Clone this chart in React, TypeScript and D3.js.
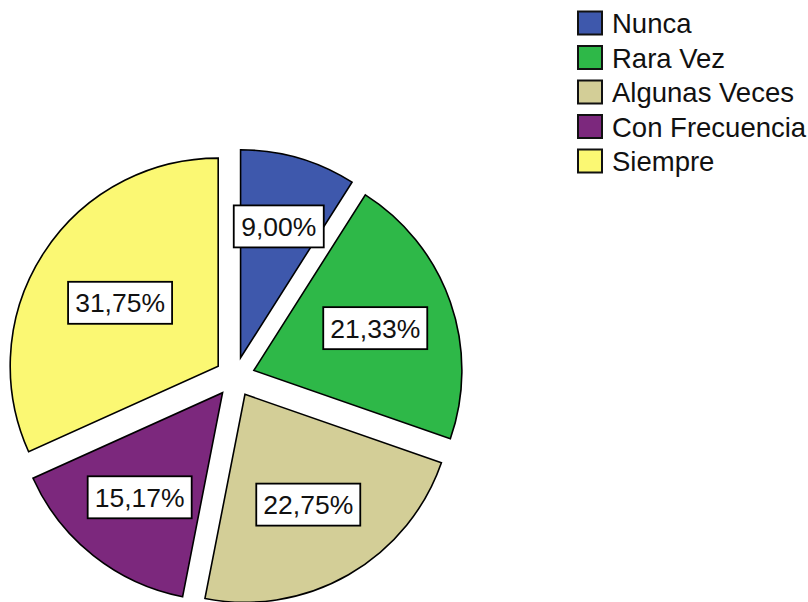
import React, { useEffect } from "react";
import * as d3 from "d3";

const categories = ["Nunca", "Rara Vez", "Algunas Veces", "Con Frecuencia", "Siempre"];
const percents = [9.0, 21.33, 22.75, 15.17, 31.75];
const colors = ["#3E58AC", "#2EB848", "#D3CE97", "#7C287D", "#FBF873"];

const W = 808;
const H = 602;
const CX = 235;
const CY = 377;
const R = 208;
const EXPLODE = 20;
const FONT = "'Liberation Sans', Arial, Helvetica, sans-serif";

export default function App() {
  useEffect(() => {
    document.body.style.margin = "0";
    document.body.style.overflow = "hidden";
  }, []);

  const pie = d3
    .pie<number>()
    .sort(null)
    .value((d) => d)
    .startAngle(0)
    .endAngle(2 * Math.PI);
  const arcs = pie(percents);
  const arcGen = d3.arc<d3.PieArcDatum<number>>().innerRadius(0).outerRadius(R);

  const fmt = (v: number) => v.toFixed(2).replace(".", ",") + "%";

  return (
    <svg
      width={W}
      height={H}
      style={{ position: "absolute", left: 0, top: 0, background: "#fff" }}
      fontFamily={FONT}
    >
      <g transform={`translate(${CX},${CY})`}>
        {arcs.map((a, i) => {
          const mid = (a.startAngle + a.endAngle) / 2;
          const ox = EXPLODE * Math.sin(mid);
          const oy = -EXPLODE * Math.cos(mid);
          return (
            <g key={i} transform={`translate(${ox},${oy})`}>
              <path d={arcGen(a) || ""} fill={colors[i]} stroke="#000" strokeWidth={1.6} strokeLinejoin="miter" />
            </g>
          );
        })}
        {arcs.map((a, i) => {
          const mid = (a.startAngle + a.endAngle) / 2;
          const theta = a.endAngle - a.startAngle;
          const ox = EXPLODE * Math.sin(mid);
          const oy = -EXPLODE * Math.cos(mid);
          const dist = (4 * R * Math.sin(theta / 2)) / (3 * theta);
          const lx = ox + dist * Math.sin(mid);
          const ly = oy - dist * Math.cos(mid);
          const txt = fmt(percents[i]);
          const fs = 26.5;
          const tw = txt.length === 5 ? 78 : 92;
          const bw = tw + 12;
          const bh = 42;
          return (
            <g key={"l" + i} transform={`translate(${lx},${ly})`}>
              <rect x={-bw / 2} y={-bh / 2} width={bw} height={bh} fill="#fff" stroke="#000" strokeWidth={1.8} />
              <text x={0} y={fs * 0.36} textAnchor="middle" fontSize={fs} fill="#111">
                {txt}
              </text>
            </g>
          );
        })}
      </g>
      <g>
        {categories.map((c, i) => {
          const cy = 23 + i * 34.5;
          return (
            <g key={c}>
              <rect x={578} y={cy - 11.5} width={24} height={23} fill={colors[i]} stroke="#111" strokeWidth={2} />
              <text x={612} y={cy + 10} fontSize={27.5} fill="#111">
                {c}
              </text>
            </g>
          );
        })}
      </g>
    </svg>
  );
}
